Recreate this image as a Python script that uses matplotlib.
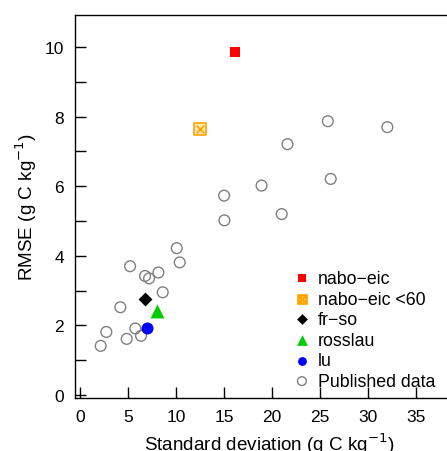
import matplotlib
matplotlib.use("Agg")
import matplotlib.pyplot as plt

plt.rcParams['font.family'] = ['Liberation Sans', 'DejaVu Sans']

# published data (standard deviation, RMSE)
pub_sd = [2.15, 2.74, 4.2, 4.86, 5.21, 5.76, 6.35, 6.77, 7.19, 8.16, 8.61,
          10.07, 10.38, 15.0, 15.03, 18.9, 21.0, 21.6, 25.8, 26.1, 32.0]
pub_rmse = [1.41, 1.81, 2.52, 1.61, 3.70, 1.91, 1.70, 3.42, 3.35, 3.52, 2.95,
            4.22, 3.81, 5.73, 5.02, 6.02, 5.20, 7.21, 7.87, 6.21, 7.70]

# own sites
site_names = ['nabo\u2212eic', 'nabo\u2212eic <60', 'fr\u2212so', 'rosslau', 'lu']
site_sd = [16.18, 12.47, 6.8, 7.99, 6.98]
site_rmse = [9.85, 7.64, 2.76, 2.40, 1.93]

fig = plt.figure(figsize=(4.47, 4.52), dpi=100)
ax = fig.add_axes([0.1685, 0.118, 0.87, 0.847])

ax.scatter(pub_sd, pub_rmse, s=60, facecolors='none', edgecolors='#808080',
           linewidths=1.0, label='Published data', zorder=2)

ax.scatter(site_sd[0], site_rmse[0], marker='s', s=60, color='#ff0000',
           linewidths=0, zorder=3)
ax.scatter(site_sd[1], site_rmse[1], marker='s', s=70, facecolor='#ffe6b0',
           edgecolor='#ffa500', linewidths=1.2, zorder=3)
ax.scatter(site_sd[1], site_rmse[1], marker='x', s=30, color='#ffa500',
           linewidths=1.2, zorder=4)
ax.scatter(site_sd[2], site_rmse[2], marker='D', s=50, color='black',
           linewidths=0, zorder=3)
ax.scatter(site_sd[3], site_rmse[3], marker='^', s=100, color='#00cc00',
           linewidths=0, zorder=3)
ax.scatter(site_sd[4], site_rmse[4], marker='o', s=75, color='#0000ff',
           linewidths=0, zorder=3)

# legend handles
h = []
h.append(ax.scatter([], [], marker='s', s=40, color='#ff0000', linewidths=0))
h.append(ax.scatter([], [], marker='$\u22a0$', s=45, color='#ffa500'))
h.append(ax.scatter([], [], marker='D', s=30, color='black', linewidths=0))
h.append(ax.scatter([], [], marker='^', s=60, color='#00cc00', linewidths=0))
h.append(ax.scatter([], [], marker='o', s=40, color='#0000ff', linewidths=0))
h.append(ax.scatter([], [], marker='o', s=40, facecolors='none',
                    edgecolors='#808080', linewidths=1.0))
fig.legend(h, site_names + ['Published data'], loc='upper left',
           bbox_to_anchor=(293 / 447, 1 - 271 / 452), frameon=False,
           fontsize=12.8, handlelength=1.0, handletextpad=0.4,
           labelspacing=0.2, borderpad=0, borderaxespad=0)

ax.set_xlim(-0.49, 40)
ax.set_ylim(-0.08, 10.93)
ax.set_xticks(range(0, 36, 5))
ax.set_yticks(range(0, 11, 1))
ax.set_yticklabels([str(v) if v % 2 == 0 else '' for v in range(0, 11)])
ax.tick_params(direction='in', length=8, width=1, labelsize=12.5, pad=8)
ax.spines['right'].set_visible(False)
for s in ['left', 'bottom', 'top']:
    ax.spines[s].set_linewidth(1.0)

ax.set_xlabel('Standard deviation (g C kg$^{-1}$)', fontsize=13.6, labelpad=5)
ax.set_ylabel('RMSE (g C kg$^{-1}$)', fontsize=13.6, labelpad=4)

fig.savefig('out.png', dpi=100)
